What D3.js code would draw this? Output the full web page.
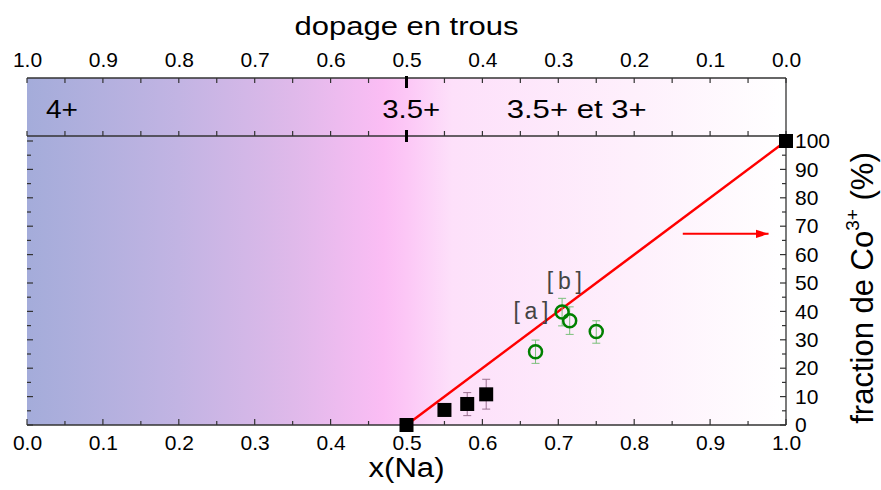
<!DOCTYPE html>
<html>
<head>
<meta charset="utf-8">
<script src="https://cdn.jsdelivr.net/npm/d3@7"></script>
<style>
  body { margin: 0; background: #fff; }
  svg text { font-family: "Liberation Sans", Arial, sans-serif; }
</style>
</head>
<body>
<div id="chart"></div>
<script>
// data
const squaresX = [0.5, 0.55, 0.58, 0.605, 1.0];
const squaresY = [0, 5.3, 7.4, 10.8, 100];
const squaresErrLo = [0, 3.5, 3.3, 5.6, 100];
const squaresErrHi = [0, 7.0, 11.4, 16.1, 100];

const circlesX = [0.67, 0.705, 0.715, 0.75];
const circlesY = [25.8, 39.8, 36.7, 32.9];
const circlesErrLo = [21.7, 34.9, 31.9, 28.8];
const circlesErrHi = [29.9, 44.6, 41.6, 36.7];

const fitX = [0.5, 1.0];
const fitY = [0, 100];

const xTicks = [0, 0.1, 0.2, 0.3, 0.4, 0.5, 0.6, 0.7, 0.8, 0.9, 1.0];
const yTicks = [0, 10, 20, 30, 40, 50, 60, 70, 80, 90, 100];
const bandLabels = ['4+', '3.5+', '3.5+ et 3+'];
const bandLabelX = [0.025, 0.468, 0.632];
const bandLabelW = [32, 58, 140];

const svg = d3.select('#chart').append('svg')
    .attr('width', 881).attr('height', 490);

const left = 27, right = 786;
const bandTop = 78, bandBottom = 136, plotBottom = 425;

const x = d3.scaleLinear().domain([0, 1]).range([left, right]);
const xTop = d3.scaleLinear().domain([1, 0]).range([left, right]);
const y = d3.scaleLinear().domain([0, 100]).range([plotBottom, 141]);

// background gradient
const defs = svg.append('defs');
const grad = defs.append('linearGradient').attr('id', 'bg')
    .attr('x1', '0%').attr('x2', '100%').attr('y1', '0%').attr('y2', '0%');
[[0, '#a4acda'], [0.2, '#c2b4e3'], [0.35, '#dfb9ea'], [0.47, '#fbbdf4'],
 [0.5, '#fcc7f6'], [0.56, '#fde0fa'], [0.8, '#fef0fc'], [1, '#ffffff']]
  .forEach(s => grad.append('stop').attr('offset', s[0]).attr('stop-color', s[1]));

svg.append('rect')
    .attr('x', left).attr('y', bandTop)
    .attr('width', right - left).attr('height', plotBottom - bandTop)
    .attr('fill', 'url(#bg)');

// frame lines
const frame = svg.append('g').attr('stroke', '#333').attr('stroke-width', 1.3);
frame.append('line').attr('x1', left).attr('x2', right).attr('y1', bandTop).attr('y2', bandTop);
frame.append('line').attr('x1', left).attr('x2', right).attr('y1', bandBottom).attr('y2', bandBottom);
frame.append('line').attr('x1', left).attr('x2', right).attr('y1', plotBottom).attr('y2', plotBottom);
frame.append('line').attr('x1', right).attr('x2', right).attr('y1', bandTop).attr('y2', plotBottom);

// bottom axis
const xAxis = svg.append('g').attr('transform', `translate(0,${plotBottom})`)
    .call(d3.axisBottom(x).tickValues(xTicks).tickFormat(d3.format('.1f')).tickSize(0).tickPadding(10));
xAxis.select('.domain').remove();
xAxis.selectAll('text').attr('font-size', 21).attr('fill', '#000');

const minorX = d3.range(0, 21).map(i => i * 0.05);
svg.append('g').selectAll('line').data(minorX).enter().append('line')
    .attr('x1', d => x(d)).attr('x2', d => x(d))
    .attr('y1', plotBottom)
    .attr('y2', (d, i) => plotBottom - (i % 2 === 0 ? 6 : 4))
    .attr('stroke', '#333').attr('stroke-width', 1.2);

// top band ticks
svg.append('g').selectAll('line').data(minorX).enter().append('line')
    .attr('x1', d => x(d)).attr('x2', d => x(d))
    .attr('y1', bandTop).attr('y2', bandTop + 5)
    .attr('stroke', '#333').attr('stroke-width', 1.2);
svg.append('g').selectAll('line').data(minorX).enter().append('line')
    .attr('x1', d => x(d)).attr('x2', d => x(d))
    .attr('y1', bandBottom).attr('y2', bandBottom - 5)
    .attr('stroke', '#333').attr('stroke-width', 1.2);

// top axis labels
const topAxis = svg.append('g').attr('transform', `translate(0,${bandTop})`)
    .call(d3.axisTop(xTop).tickValues(xTicks).tickFormat(d3.format('.1f')).tickSize(0).tickPadding(11));
topAxis.select('.domain').remove();
topAxis.selectAll('text').attr('font-size', 21).attr('fill', '#000');

svg.append('text').attr('x', x(0.5)).attr('y', 35)
    .attr('text-anchor', 'middle').attr('font-size', 26)
    .attr('textLength', 224).attr('lengthAdjust', 'spacingAndGlyphs')
    .text('dopage en trous');

// right axis
const yAxis = svg.append('g').attr('transform', `translate(${right},0)`)
    .call(d3.axisRight(y).tickValues(yTicks).tickSize(0).tickPadding(9));
yAxis.select('.domain').remove();
yAxis.selectAll('text').attr('font-size', 21).attr('fill', '#000');

const minorY = d3.range(0, 21).map(i => i * 5);
svg.append('g').selectAll('line').data(minorY).enter().append('line')
    .attr('x1', right).attr('x2', (d, i) => right - (i % 2 === 0 ? 6 : 4))
    .attr('y1', d => y(d)).attr('y2', d => y(d))
    .attr('stroke', '#333').attr('stroke-width', 1.2);
svg.append('g').selectAll('line').data(minorY).enter().append('line')
    .attr('x1', left).attr('x2', (d, i) => left + (i % 2 === 0 ? 6 : 4))
    .attr('y1', d => y(d)).attr('y2', d => y(d))
    .attr('stroke', '#333').attr('stroke-width', 1.2);

// axis titles
svg.append('text').attr('x', x(0.5)).attr('y', 477)
    .attr('text-anchor', 'middle').attr('font-size', 27)
    .attr('textLength', 76).attr('lengthAdjust', 'spacingAndGlyphs')
    .text('x(Na)');

const yTitle = svg.append('text')
    .attr('transform', 'translate(873,288) rotate(-90)')
    .attr('text-anchor', 'middle').attr('font-size', 31);
yTitle.append('tspan').text('fraction de Co');
yTitle.append('tspan').attr('font-size', 19).attr('dy', -14).text('3+');
yTitle.append('tspan').attr('dy', 14).text(' (%)');

// band labels
svg.append('g').selectAll('text').data(bandLabels).enter().append('text')
    .attr('x', (d, i) => x(bandLabelX[i]))
    .attr('y', 118)
    .attr('font-size', 25)
    .attr('textLength', (d, i) => bandLabelW[i])
    .attr('lengthAdjust', 'spacingAndGlyphs')
    .text(d => d);

// dashed marker at x = 0.5
svg.append('line')
    .attr('x1', x(0.5)).attr('x2', x(0.5))
    .attr('y1', 76).attr('y2', 142)
    .attr('stroke', '#000').attr('stroke-width', 3)
    .attr('stroke-dasharray', '12 42');

// red fit line
svg.append('path')
    .datum(fitX.map((d, i) => [d, fitY[i]]))
    .attr('d', d3.line().x(d => x(d[0])).y(d => y(d[1])))
    .attr('stroke', '#f00').attr('stroke-width', 2.5).attr('fill', 'none');

// arrow
defs.append('marker').attr('id', 'arrow')
    .attr('viewBox', '0 0 12 8').attr('refX', 12).attr('refY', 4)
    .attr('markerWidth', 13).attr('markerHeight', 9).attr('markerUnits', 'userSpaceOnUse')
    .attr('orient', 'auto')
    .append('path').attr('d', 'M0,0L12,4L0,8Z').attr('fill', '#f00');
svg.append('line')
    .attr('x1', x(0.864)).attr('x2', x(0.977))
    .attr('y1', y(67.3)).attr('y2', y(67.3))
    .attr('stroke', '#f00').attr('stroke-width', 2)
    .attr('marker-end', 'url(#arrow)');

// error bars
function errorBars(xs, lo, hi, color) {
  const g = svg.append('g').attr('stroke', color).attr('stroke-width', 1).attr('fill', 'none');
  xs.forEach((d, i) => {
    if (hi[i] === lo[i]) return;
    g.append('line').attr('x1', x(d)).attr('x2', x(d)).attr('y1', y(lo[i])).attr('y2', y(hi[i]));
    g.append('line').attr('x1', x(d) - 4).attr('x2', x(d) + 4).attr('y1', y(lo[i])).attr('y2', y(lo[i]));
    g.append('line').attr('x1', x(d) - 4).attr('x2', x(d) + 4).attr('y1', y(hi[i])).attr('y2', y(hi[i]));
  });
}
errorBars(squaresX, squaresErrLo, squaresErrHi, '#9a7090');
errorBars(circlesX, circlesErrLo, circlesErrHi, '#7cc07c');

// squares
svg.append('g').selectAll('rect').data(squaresX).enter().append('rect')
    .attr('x', d => x(d) - 7).attr('y', (d, i) => y(squaresY[i]) - 7)
    .attr('width', 14).attr('height', 14).attr('fill', '#000');

// circles
svg.append('g').selectAll('circle').data(circlesX).enter().append('circle')
    .attr('cx', d => x(d)).attr('cy', (d, i) => y(circlesY[i]))
    .attr('r', 6.5).attr('fill', 'none').attr('stroke', '#008000').attr('stroke-width', 2.5);

// annotations
const notes = ['[a]', '[b]'];
const noteX = [0.664, 0.708];
const noteY = [37.3, 48.0];
svg.append('g').selectAll('text').data(notes).enter().append('text')
    .attr('x', (d, i) => x(noteX[i])).attr('y', (d, i) => y(noteY[i]))
    .attr('text-anchor', 'middle').attr('font-size', 23)
    .attr('font-family', '"DejaVu Sans Mono", monospace')
    .attr('textLength', 35).attr('lengthAdjust', 'spacing')
    .attr('fill', '#444')
    .text(d => d);
</script>
</body>
</html>
